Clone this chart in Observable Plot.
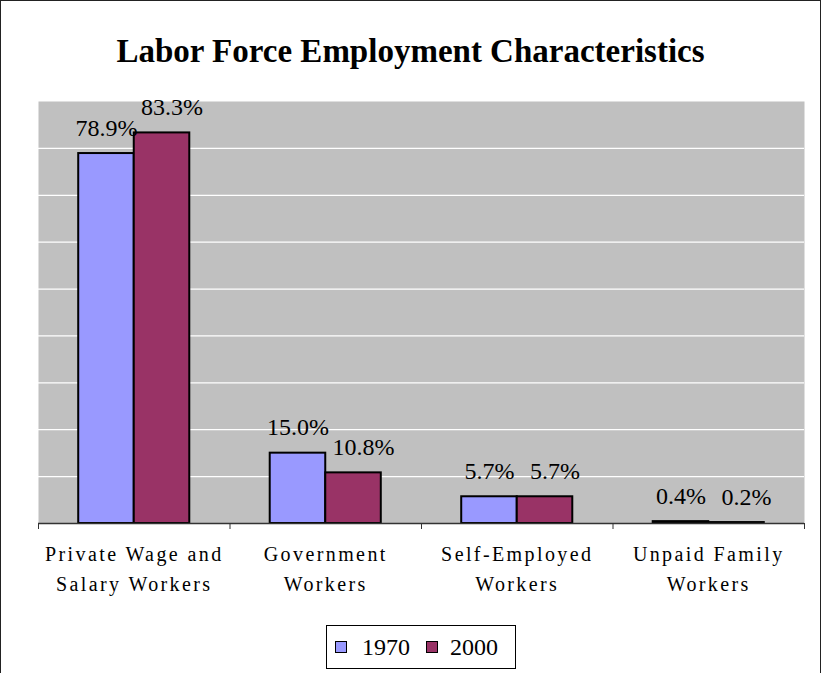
<!DOCTYPE html>
<html>
<head>
<meta charset="utf-8">
<script src="https://cdn.jsdelivr.net/npm/d3@7"></script>
<script src="https://cdn.jsdelivr.net/npm/@observablehq/plot@0.6"></script>
<style>
  html, body { margin: 0; padding: 0; background: #fff; }
  #wrap, #wrap * { font-family: "Liberation Serif", "Times New Roman", Times, serif !important; }
  #wrap { position: relative; width: 821px; height: 673px; overflow: hidden; }
  #border { position: absolute; left: 0; top: 0; width: 819px; height: 700px; border: 1px solid #222; }
  #title { position: absolute; left: 0; top: 35px; width: 821px; text-align: center;
           font-weight: bold; font-size: 33px; line-height: 32px; color: #000; }
  #chart { position: absolute; left: 0; top: 0; }
  .cat text { letter-spacing: 2.4px; }
  #legend { position: absolute; left: 326px; top: 625px; width: 190px; height: 44px;
            border: 1px solid #000; box-sizing: border-box; background: #fff;
            display: flex; align-items: center; font-size: 24px; color: #000; }
  .sw { display: inline-block; width: 10px; height: 10px; border: 1.5px solid #000; }
</style>
</head>
<body>
<div id="wrap">
  <div id="border"></div>
  <div id="chart"></div>
  <div id="title">Labor Force Employment Characteristics</div>
  <div id="legend"></div>
</div>
<script>
// ---- data ----
const categories = ["Private Wage and\nSalary Workers", "Government\nWorkers", "Self-Employed\nWorkers", "Unpaid Family\nWorkers"];
const years = ["1970", "2000"];
const values1970 = [78.9, 15.0, 5.7, 0.4];
const values2000 = [83.3, 10.8, 5.7, 0.2];
const yGrid = [10, 20, 30, 40, 50, 60, 70, 80];
const colors = ["#9999FF", "#993366"];

const rows = [];
categories.forEach((c, i) => {
  rows.push({category: c, i, year: years[0], value: values1970[i]});
  rows.push({category: c, i, year: years[1], value: values2000[i]});
});
const catRows = categories.map((c, i) => ({category: c, i}));

// group layout inside each category slot (fraction of slot)
const groupStart = 0.21, barW = 0.29;
const x1 = d => d.i + groupStart + (d.year === years[0] ? 0 : barW);
const x2 = d => x1(d) + barW;
const xc = d => (x1(d) + x2(d)) / 2;
const serif = "Liberation Serif, Times New Roman, serif";

const chart = Plot.plot({
  width: 821,
  height: 673,
  marginTop: 101,
  marginRight: 17,
  marginBottom: 150,
  marginLeft: 38,
  style: {background: "transparent"},
  x: {type: "linear", domain: [0, categories.length], axis: null},
  y: {domain: [0, 90], axis: null},
  color: {domain: years, range: colors},
  marks: [
    Plot.frame({fill: "#C0C0C0", stroke: null}),
    Plot.ruleY(yGrid, {stroke: "#ffffff", strokeWidth: 1.3}),
    Plot.rect(rows, {x1, x2, y1: 0, y2: "value", fill: "year", stroke: "#000", strokeWidth: 2}),
    Plot.ruleY([0], {stroke: "#333", strokeWidth: 1.5}),
    Plot.axisX({ticks: d3.range(categories.length + 1), tickSize: 6, tickFormat: () => "", stroke: "#333"}),
    Plot.text(rows.filter(d => d.year === years[0]), {
      x: xc, y: "value",
      text: d => d.value.toFixed(1) + "%",
      lineAnchor: "bottom", dy: -18,
      fontSize: 24, fontFamily: serif, fill: "#000"
    }),
    Plot.text(rows.filter(d => d.year === years[1]), {
      x: xc, y: "value",
      text: d => d.value.toFixed(1) + "%",
      lineAnchor: "bottom", dy: -18, dx: 10,
      fontSize: 24, fontFamily: serif, fill: "#000"
    }),
    Plot.text(catRows, {
      x: d => d.i + 0.5,
      text: "category",
      frameAnchor: "bottom",
      lineAnchor: "top",
      dy: 16,
      lineHeight: 1.5,
      fontSize: 20,
      fontFamily: serif,
      fill: "#000",
      className: "cat"
    })
  ]
});
document.getElementById("chart").appendChild(chart);

// legend
const lg = document.getElementById("legend");
years.forEach((y, k) => {
  const sw = document.createElement("span");
  sw.className = "sw";
  sw.style.background = colors[k];
  sw.style.marginLeft = k === 0 ? "8px" : "16px";
  const t = document.createElement("span");
  t.textContent = y;
  t.style.marginLeft = k === 0 ? "15px" : "12px";
  lg.appendChild(sw);
  lg.appendChild(t);
});
</script>
</body>
</html>
